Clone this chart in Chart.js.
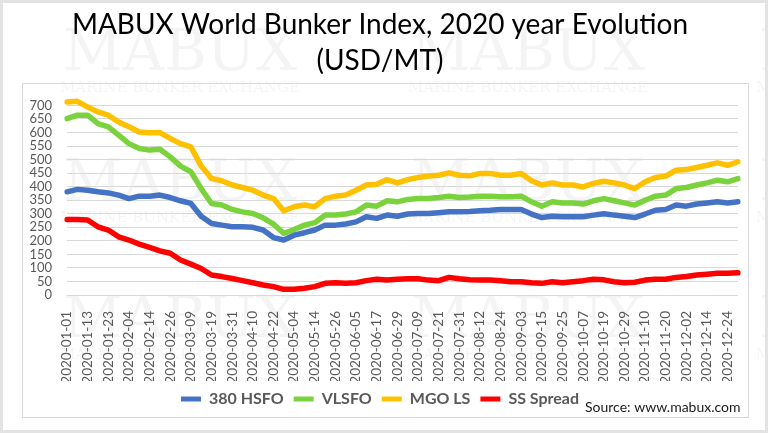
<!DOCTYPE html>
<html lang="en">
<head>
  <meta charset="UTF-8">
  <title>MABUX World Bunker Index, 2020 year Evolution</title>
  <style>
    html, body { margin: 0; padding: 0; background: #fff; }
    #wrap { width: 768px; height: 433px; }
  </style>
</head>
<body>
  <div id="wrap"><canvas id="chart" width="768" height="433"></canvas></div>

  <script src="https://cdn.jsdelivr.net/npm/chart.js"></script>
  <script>
    // every 4th business day of 2020
    const dates = [
      "2020-01-01", "2020-01-07", "2020-01-13", "2020-01-17", "2020-01-23", "2020-01-29",
      "2020-02-04", "2020-02-10", "2020-02-14", "2020-02-20", "2020-02-26", "2020-03-03",
      "2020-03-09", "2020-03-13", "2020-03-19", "2020-03-25", "2020-03-31", "2020-04-06",
      "2020-04-10", "2020-04-16", "2020-04-22", "2020-04-28", "2020-05-04", "2020-05-08",
      "2020-05-14", "2020-05-20", "2020-05-26", "2020-06-01", "2020-06-05", "2020-06-11",
      "2020-06-17", "2020-06-23", "2020-06-29", "2020-07-03", "2020-07-09", "2020-07-15",
      "2020-07-21", "2020-07-27", "2020-07-31", "2020-08-06", "2020-08-12", "2020-08-18",
      "2020-08-24", "2020-08-28", "2020-09-03", "2020-09-09", "2020-09-15", "2020-09-21",
      "2020-09-25", "2020-10-01", "2020-10-07", "2020-10-13", "2020-10-19", "2020-10-23",
      "2020-10-29", "2020-11-04", "2020-11-10", "2020-11-16", "2020-11-20", "2020-11-26",
      "2020-12-02", "2020-12-08", "2020-12-14", "2020-12-18", "2020-12-24", "2020-12-30"
    ];

    const hsfo380 = [
      381, 390, 387, 381, 377, 369, 356, 365, 365, 369, 360, 348, 338, 291, 264, 258,
      252, 252, 250, 240, 212, 203, 221, 230, 240, 258, 258, 262, 270, 289, 283, 295,
      291, 299, 301, 301, 304, 307, 307, 308, 311, 313, 316, 316, 316, 299, 286, 291,
      289, 289, 289, 295, 300, 295, 291, 286, 299, 313, 316, 332, 328, 336, 340, 344,
      340, 344
    ];
    const vlsfo = [
      651, 664, 664, 633, 621, 590, 559, 541, 535, 538, 510, 476, 455, 393, 338, 332,
      316, 307, 301, 285, 262, 227, 242, 258, 267, 295, 295, 299, 307, 332, 328, 348,
      344, 353, 356, 356, 360, 365, 360, 362, 365, 365, 363, 363, 365, 344, 328, 344,
      340, 340, 336, 348, 356, 348, 340, 332, 350, 365, 369, 393, 397, 406, 414, 424,
      418, 430
    ];
    const mgoLs = [
      713, 715, 694, 676, 664, 639, 621, 602, 599, 600, 578, 559, 547, 476, 430, 422,
      406, 397, 387, 369, 356, 311, 326, 332, 326, 356, 365, 369, 387, 406, 409, 426,
      414, 426, 434, 439, 442, 451, 442, 440, 449, 449, 442, 442, 449, 422, 406, 414,
      406, 406, 399, 412, 420, 414, 406, 393, 418, 434, 439, 461, 463, 471, 479, 488,
      479, 492
    ];
    const ssSpread = [
      279, 279, 277, 252, 240, 215, 203, 188, 176, 163, 154, 129, 114, 98, 74, 68,
      61, 53, 45, 37, 31, 21, 21, 25, 31, 43, 45, 43, 45, 53, 58, 55,
      58, 60, 60, 55, 53, 65, 60, 56, 55, 55, 53, 49, 49, 45, 43, 49,
      45, 49, 53, 58, 56, 49, 45, 47, 55, 58, 58, 65, 68, 74, 77, 80,
      80, 82
    ];

    const seriesNames = ["380 HSFO", "VLSFO", "MGO LS", "SS Spread"];
    const seriesColors = ["#4472C4", "#7AD33C", "#FFC000", "#FF0000"];
    const seriesData = [hsfo380, vlsfo, mgoLs, ssSpread];

    const GREY = "#595959";

    // background frame + faint watermark, and the source note
    const decor = {
      id: "decor",
      beforeDraw(chart) {
        const ctx = chart.ctx;
        ctx.save();
        ctx.fillStyle = "#fff";
        ctx.fillRect(0, 0, chart.width, chart.height);

        ctx.fillStyle = "rgba(0,0,0,0.045)";
        ctx.textAlign = "center";
        ctx.textBaseline = "middle";
        const cols = [180, 528, 876];
        const rows = [88, 218, 355];
        rows.forEach(function (ry) {
          cols.forEach(function (cx) {
            ctx.font = "58px 'DejaVu Serif'";
            ctx.fillText("MABUX", cx, ry - 33);
            ctx.font = "15px 'DejaVu Serif'";
            ctx.fillText("MARINE BUNKER EXCHANGE", cx, ry);
          });
        });

        ctx.strokeStyle = "#d9d9d9";
        ctx.lineWidth = 1;
        ctx.strokeRect(22.5, 83.5, 726, 334);
        ctx.strokeStyle = "#e3e3e3";
        ctx.lineWidth = 3;
        ctx.strokeRect(1.5, 1.5, chart.width - 3, chart.height - 3);
        ctx.restore();
      },
      afterDraw(chart) {
        const ctx = chart.ctx;
        ctx.save();
        ctx.font = "14px Lato";
        ctx.fillStyle = "#1a1a1a";
        ctx.textAlign = "left";
        ctx.textBaseline = "middle";
        ctx.fillText("Source: www.mabux.com", 585, 407);
        ctx.restore();
      }
    };

    const ctx = document.getElementById("chart").getContext("2d");
    new Chart(ctx, {
      type: "line",
      data: {
        labels: dates,
        datasets: seriesNames.map(function (name, k) {
          return {
            label: name,
            data: seriesData[k],
            borderColor: seriesColors[k],
            backgroundColor: seriesColors[k],
            borderWidth: 5.5,
            pointRadius: 0,
            tension: 0,
            borderJoinStyle: "round",
            borderCapStyle: "round",
            fill: false
          };
        })
      },
      options: {
        responsive: false,
        animation: false,
        layout: { padding: { left: 22, right: 30, top: 7, bottom: 16 } },
        plugins: {
          title: {
            display: true,
            text: ["MABUX World Bunker Index, 2020 year Evolution", "(USD/MT)"],
            color: "#000",
            font: { family: "Lato", size: 28, weight: "normal", lineHeight: 1.29 },
            padding: { top: 0, bottom: 14 }
          },
          legend: {
            position: "bottom",
            labels: {
              color: GREY,
              font: { family: "Lato", size: 16, weight: "bold" },
              boxWidth: 20,
              boxHeight: 5,
              padding: 10,
              generateLabels(chart) {
                const items = Chart.defaults.plugins.legend.labels.generateLabels(chart);
                items.forEach(function (it) {
                  it.lineWidth = 0;
                  it.fillStyle = it.strokeStyle;
                });
                return items;
              }
            }
          },
          tooltip: { enabled: false }
        },
        scales: {
          x: {
            grid: { display: false },
            border: { display: false },
            ticks: {
              autoSkip: false,
              minRotation: 90,
              maxRotation: 90,
              padding: 8,
              color: GREY,
              font: { family: "Lato", size: 13.5 },
              callback: function (value, index) {
                return index % 2 === 0 ? this.getLabelForValue(value) : null;
              }
            },
            afterFit: function (scale) { scale.height = 86; }
          },
          y: {
            min: 0,
            max: 745,
            grid: { color: "#d9d9d9", lineWidth: 1, drawTicks: false },
            border: { display: false },
            ticks: {
              stepSize: 50,
              autoSkip: false,
              maxTicksLimit: 30,
              includeBounds: false,
              padding: 15,
              color: GREY,
              font: { family: "Lato", size: 13 }
            },
            afterFit: function (scale) { scale.width = 45; }
          }
        }
      },
      plugins: [decor]
    });
  </script>
</body>
</html>
